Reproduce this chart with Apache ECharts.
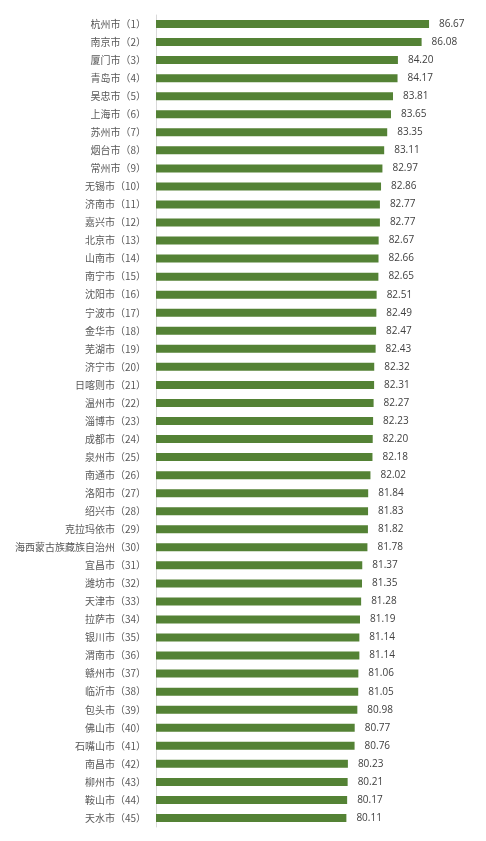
<!DOCTYPE html>
<html><head><meta charset="utf-8">
<script src="https://cdn.jsdelivr.net/npm/echarts@6/dist/echarts.min.js"></script>
<style>html,body{margin:0;padding:0;background:#fff}#c{width:486px;height:841px}</style>
</head><body><div id="c"></div>
<script>
const cities = ["杭州市","南京市","厦门市","青岛市","吴忠市","上海市","苏州市","烟台市","常州市","无锡市","济南市","嘉兴市","北京市","山南市","南宁市","沈阳市","宁波市","金华市","芜湖市","济宁市","日喀则市","温州市","淄博市","成都市","泉州市","南通市","洛阳市","绍兴市","克拉玛依市","海西蒙古族藏族自治州","宜昌市","潍坊市","天津市","拉萨市","银川市","渭南市","赣州市","临沂市","包头市","佛山市","石嘴山市","南昌市","柳州市","鞍山市","天水市"];
const scores = [86.67,86.08,84.20,84.17,83.81,83.65,83.35,83.11,82.97,82.86,82.77,82.77,82.67,82.66,82.65,82.51,82.49,82.47,82.43,82.32,82.31,82.27,82.23,82.20,82.18,82.02,81.84,81.83,81.82,81.78,81.37,81.35,81.28,81.19,81.14,81.14,81.06,81.05,80.98,80.77,80.76,80.23,80.21,80.17,80.11];
const categories = cities.map((c,i)=>c+"（"+(i+1)+"）");
const chart = echarts.init(document.getElementById('c'), null, {renderer:'canvas'});
chart.setOption({
  animation:false,
  grid:{left:156,right:15,top:15,bottom:14},
  xAxis:{type:'value',min:65,max:90,show:false},
  yAxis:{type:'category',data:categories,inverse:true,
    axisLine:{show:true,lineStyle:{color:'#d9d9d9',width:1}},
    axisTick:{show:false},
    axisLabel:{color:'#595959',fontSize:10,margin:10,fontFamily:'"Noto Sans CJK SC", sans-serif'}},
  series:[{type:'bar',data:scores,barWidth:8,
    itemStyle:{color:'#548235'},
    label:{show:true,position:'right',distance:10,color:'#404040',fontSize:10,
      fontFamily:'"Open Sans", sans-serif',formatter:p=>p.value.toFixed(2)}}]
});
</script></body></html>
